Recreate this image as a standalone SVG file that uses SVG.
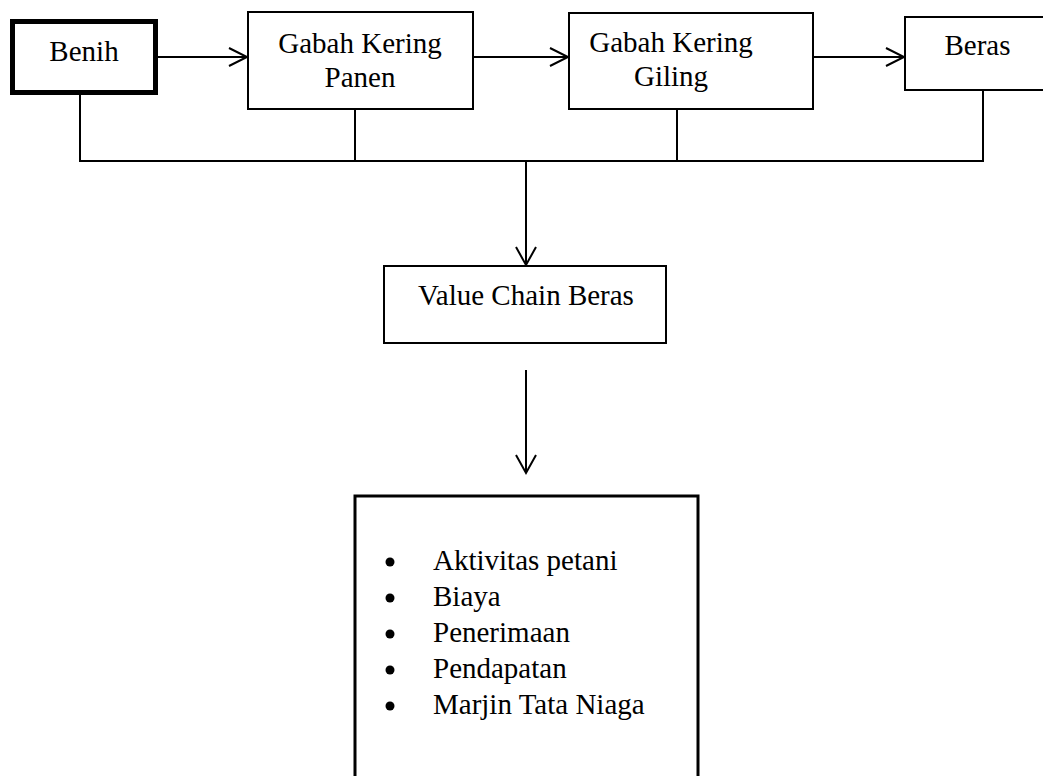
<svg xmlns="http://www.w3.org/2000/svg" width="1043" height="776" viewBox="0 0 1043 776">
<style>
  .box { fill: #fff; stroke: #000; stroke-width: 2; }
  .t { font-family: "Liberation Serif", "Times New Roman", serif; font-size: 29px; fill: #000; }
  .c { text-anchor: middle; }
  .ln { fill: none; stroke: #000; stroke-width: 2; }
  .ah { fill: none; stroke: #000; stroke-width: 2; }
</style>
<rect width="1043" height="776" fill="#fff"/>
<g id="connectors">
  <line class="ln" x1="158" y1="57" x2="247" y2="57"/>
  <polyline class="ah" points="229,48 247,57 229,66"/>
  <line class="ln" x1="474" y1="57" x2="568" y2="57"/>
  <polyline class="ah" points="550,48 568,57 550,66"/>
  <line class="ln" x1="813" y1="57" x2="904" y2="57"/>
  <polyline class="ah" points="886,48 904,57 886,66"/>
  <polyline class="ln" points="80,95 80,161 983,161 983,90"/>
  <line class="ln" x1="355" y1="109" x2="355" y2="161"/>
  <line class="ln" x1="677" y1="109" x2="677" y2="161"/>
  <line class="ln" x1="526" y1="161" x2="526" y2="265"/>
  <polyline class="ah" points="516,247 526,265 536,247"/>
  <line class="ln" x1="526" y1="370" x2="526" y2="473"/>
  <polyline class="ah" points="516,455 526,473 536,455"/>
</g>
<g id="benih">
  <rect x="12.5" y="21.5" width="143" height="71" fill="#fff" stroke="#000" stroke-width="5"/>
  <text class="t c" x="84" y="61">Benih</text>
</g>
<g id="gkp">
  <rect class="box" x="248" y="12" width="225" height="97"/>
  <text class="t c" x="360" y="53">Gabah Kering</text>
  <text class="t c" x="360" y="87">Panen</text>
</g>
<g id="gkg">
  <rect class="box" x="569" y="13" width="244" height="96"/>
  <text class="t c" x="671" y="52">Gabah Kering</text>
  <text class="t c" x="671" y="86">Giling</text>
</g>
<g id="beras">
  <rect class="box" x="905" y="17" width="150" height="73"/>
  <text class="t c" x="977.5" y="55">Beras</text>
</g>
<g id="vcb">
  <rect class="box" x="384" y="266" width="282" height="77"/>
  <text class="t c" x="526" y="305">Value Chain Beras</text>
</g>
<g id="list">
  <rect x="355" y="496" width="343" height="300" fill="#fff" stroke="#000" stroke-width="3"/>
  <circle cx="390" cy="562" r="4.5"/>
  <circle cx="390" cy="598" r="4.5"/>
  <circle cx="390" cy="634" r="4.5"/>
  <circle cx="390" cy="670" r="4.5"/>
  <circle cx="390" cy="706" r="4.5"/>
  <text class="t" x="433" y="570">Aktivitas petani</text>
  <text class="t" x="433" y="606">Biaya</text>
  <text class="t" x="433" y="642">Penerimaan</text>
  <text class="t" x="433" y="678">Pendapatan</text>
  <text class="t" x="433" y="714">Marjin Tata Niaga</text>
</g>
</svg>
